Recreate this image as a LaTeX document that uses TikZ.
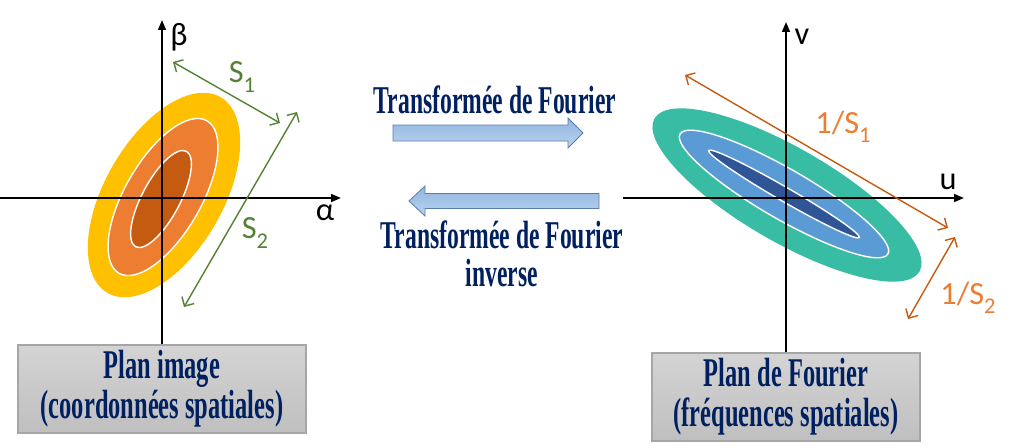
\documentclass[tikz,border=0pt]{standalone}
\usepackage{fontspec}
\setmainfont{Carlito}
\newfontfamily\titlefont{Liberation Serif}[FakeStretch=0.6]
\usetikzlibrary{arrows.meta}
\definecolor{imgyellow}{HTML}{FFC000}
\definecolor{imgorange}{HTML}{ED7D31}
\definecolor{imgbrown}{HTML}{C55A11}
\definecolor{fouteal}{HTML}{38BDA4}
\definecolor{foublue}{HTML}{5B9BD5}
\definecolor{foudark}{HTML}{2F5597}
\definecolor{sgreen}{HTML}{548235}
\definecolor{navytext}{HTML}{002060}
\definecolor{arrowtop}{HTML}{92B6DF}
\definecolor{arrowbot}{HTML}{B9D3EF}
\definecolor{arrowrim}{HTML}{5A7DB4}
\def\lowidx#1{\raisebox{-0.28em}{\fontsize{16}{16}\selectfont #1}}
\tikzset{
  axis/.style={line width=1.3pt, -{Triangle[length=7pt,width=5.5pt]}},
  span/.style={line width=1pt, {Straight Barb[length=5pt,width=10pt]}-{Straight Barb[length=5pt,width=10pt]}},
  lbl/.style={font=\fontsize{23}{26}\selectfont, inner sep=0pt},
  titletext/.style={font=\titlefont\bfseries\fontsize{28}{27}\selectfont, text=navytext, align=center, inner sep=0pt},
  bigarrow/.style={draw=arrowrim, line width=0.6pt, top color=arrowtop, bottom color=arrowbot},
  planbox/.style={draw=black!35, line width=0.8pt, top color=black!17, bottom color=black!25,
    minimum height=2.2cm, font=\titlefont\bfseries\fontsize{29}{28.5}\selectfont, text=navytext, align=center},
  ring/.style={draw=white, line width=1pt}
}
\begin{document}
\begin{tikzpicture}[x=0.025cm, y=-0.025cm]
		%%%%% START %%%%%
		\useasboundingbox (0,0) rectangle (1012,447);
		
		% plan image
		\fill[imgyellow, shift={(164,195)}, rotate=60] (0,0) ellipse (113 and 59);
		\filldraw[ring, fill=imgorange, shift={(163,197)}, rotate=60] (0,0) ellipse (88 and 38);
		\filldraw[ring, fill=imgbrown, shift={(161,199)}, rotate=62] (0,0) ellipse (54 and 19);
		
		\node[planbox, minimum width=7.2cm] (imgbox) at (162,389) {Plan image\\(coordonnées spatiales)};
		\draw[axis] (imgbox.north) -- (162,20);
		\draw[axis] (0,198) -- (341,198);
		\node[lbl] (beta) at (179,37) {β};
		\node[lbl] (alpha) at (325,213) {α};
		
		\coordinate (s1a) at (173,62);
		\coordinate (s1b) at (280,123);
		\coordinate (s2a) at (297,112);
		\coordinate (s2b) at (184,307);
		\draw[span, sgreen] (s1a) -- (s1b);
		\draw[span, sgreen] (s2a) -- (s2b);
		\node[lbl, text=sgreen] (s1lab) at (242,77) {S\lowidx{1}};
		\node[lbl, text=sgreen] (s2lab) at (255,233) {S\lowidx{2}};
		
		% transformations
		\node[titletext] (ftlab) at (495,100) {Transformée de Fourier};
		\draw[bigarrow] (393,125) -- (568,125) -- (568,118) -- (583,133) -- (568,148) -- (568,141) -- (393,141) -- cycle;
		\draw[bigarrow] (599,193.5) -- (425,193.5) -- (425,186) -- (409,201) -- (425,216) -- (425,208.5) -- (599,208.5) -- cycle;
		\node[titletext] (iftlab) at (502,254) {Transformée de Fourier\\inverse};
		
		% plan de Fourier
		\fill[fouteal, shift={(787,195)}, rotate=-30] (0,0) ellipse (153 and 47);
		\filldraw[ring, fill=foublue, shift={(784,194)}, rotate=-30] (0,0) ellipse (120 and 25);
		\filldraw[ring, fill=foudark, shift={(784,194)}, rotate=-30] (0,0) ellipse (87 and 7);
		
		\node[planbox, minimum width=6.7cm] (foubox) at (786,397) {Plan de Fourier\\(fréquences spatiales)};
		\draw[axis] (foubox.north) -- (786,22);
		\draw[axis] (623,198) -- (964,198);
		\node[lbl] (vlab) at (802,37) {v};
		\node[lbl] (ulab) at (948,182) {u};
		
		\coordinate (f1a) at (685,75);
		\coordinate (f1b) at (948,228);
		\coordinate (f2a) at (955,237);
		\coordinate (f2b) at (908,319);
		\draw[span, imgbrown] (f1a) -- (f1b);
		\draw[span, imgbrown] (f2a) -- (f2b);
		\node[lbl, text=imgorange] (f1lab) at (843,127) {1/S\lowidx{1}};
		\node[lbl, text=imgorange] (f2lab) at (968,298) {1/S\lowidx{2}};
		
		%%%%% END %%%%%
	\end{tikzpicture}
\end{document}
